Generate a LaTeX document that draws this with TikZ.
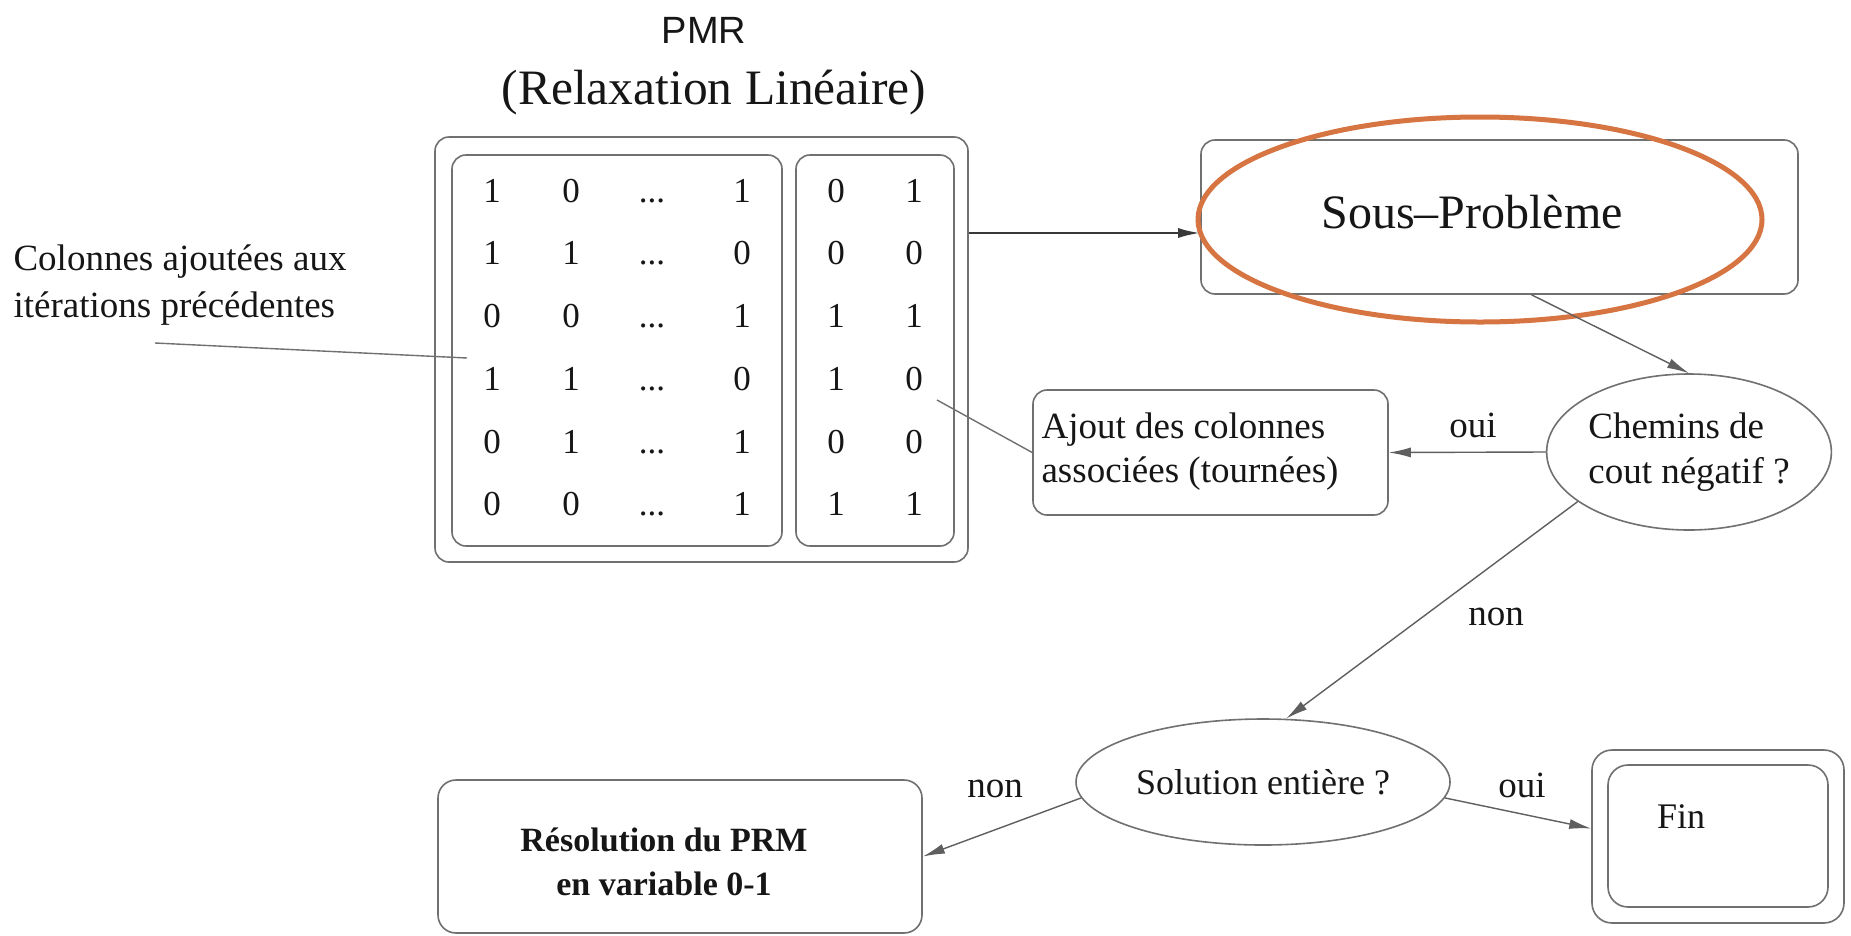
\documentclass[tikz,border=0pt]{standalone}
\usepackage{fontspec}
\setmainfont{Liberation Serif}
\setsansfont{Liberation Sans}
\usetikzlibrary{arrows.meta,calc,shapes.geometric}
\definecolor{boxgray}{RGB}{112,112,112}
\definecolor{ink}{RGB}{22,22,22}
\definecolor{hilite}{RGB}{214,116,66}
\newcommand\setfs[2]{\fontsize{#1pt}{#2pt}\selectfont}
\begin{document}
\begin{tikzpicture}[x=1pt,y=-1pt,
  boxframe/.style={draw=boxgray,line width=1.6pt,rounded corners=14pt,inner sep=0pt},
  oval/.style={draw=boxgray,line width=1.6pt,ellipse,inner sep=0pt,text=ink},
  txt/.style={text=ink,inner sep=0pt},
  cell/.style={text=ink,inner sep=0pt,anchor=base,font=\setfs{35}{42}},
  flow/.style={draw=boxgray!85!black,line width=1.4pt,-{Latex[length=22pt,width=10pt]}},
  lead/.style={draw=boxgray,line width=1.4pt},
]
\fill[white] (0,0) rectangle (1851,935);
\useasboundingbox (0,0) rectangle (1851,935);

% master problem title
\node[txt,anchor=base,font=\sffamily\setfs{38}{46}] (pmr) at (704,43) {PMR};
\node[txt,anchor=base,font=\setfs{49.5}{58}] (relax) at (714,104) {(Relaxation Linéaire)};

% column matrix
\node[boxframe,minimum width=533pt,minimum height=425pt] (pmrbox) at (701.5,349.5) {};
\node[boxframe,minimum width=330pt,minimum height=391pt] (oldcols) at (617,350.5) {};
\node[boxframe,minimum width=158pt,minimum height=391pt] (newcols) at (875,350.5) {};
\foreach \pa/\pb/\pc/\pd/\pe [count=\r] in {1/0/1/0/1,1/1/0/0/0,0/0/1/1/1,1/1/0/1/0,0/1/1/0/0,0/0/1/1/1}{
  \pgfmathsetmacro\yy{139.5+62.7*\r}
  \node[cell] (m\r-1) at (492,\yy) {\pa};
  \node[cell] (m\r-2) at (571,\yy) {\pb};
  \node[cell] (m\r-3) at (652,\yy) {...};
  \node[cell] (m\r-4) at (742,\yy) {\pc};
  \node[cell] (m\r-5) at (836,\yy) {\pd};
  \node[cell] (m\r-6) at (914,\yy) {\pe};
}

% note on the old columns
\node[txt,align=left,font=\setfs{37}{47}] (colonnes) at (180,285) {Colonnes ajoutées aux\\itérations précédentes};
\coordinate (colA) at (155,343);
\coordinate (colB) at (467,358);
\draw[lead] (colA) -- (colB);

% pricing subproblem
\node[boxframe,minimum width=597pt,minimum height=154pt] (sous) at (1499.5,217) {};
\node[txt,anchor=base,font=\setfs{48}{58}] (soustxt) at (1472,228) {Sous–Problème};
\node[draw=hilite,line width=5pt,ellipse,minimum width=564pt,minimum height=205pt,inner sep=0pt] (focus) at (1480,219.5) {};
\draw[flow,draw=ink!85,line width=2.4pt] ($(pmrbox.east |- sous.west)+(0,16)$) -- ($(sous.west)+(0,16)$);

% negative reduced cost test
\node[oval,minimum width=282pt,minimum height=156pt,align=left,font=\setfs{37}{45}] (chem) at (1689,452) {Chemins de\\cout négatif ?};
\draw[flow] ($(sous.south)+(32,0)$) -- (chem.north);

% adding columns
\node[boxframe,minimum width=355pt,minimum height=125pt] (ajout) at (1210.5,452.5) {};
\node[txt,align=left,font=\setfs{37}{44}] (ajouttxt) at (1190,452) {Ajout des colonnes\\associées (tournées)};
\draw[flow] (chem.west) -- (ajout.east);
\node[txt,anchor=base,font=\setfs{37}{44}] (oui1) at (1473,437) {oui};
\coordinate (ajA) at (937,400);
\draw[lead] (ajA) -- (ajout.west);

% integrality test
\node[oval,minimum width=374pt,minimum height=126pt,font=\setfs{36}{44}] (sol) at (1263,782) {Solution entière ?};
\draw[flow] (chem.204) -- (sol.70);
\node[txt,anchor=base,font=\setfs{37}{44}] (non1) at (1496,625) {non};

% end
\node[boxframe,rounded corners=20pt,minimum width=252pt,minimum height=173pt] (finout) at (1718,836.5) {};
\node[boxframe,rounded corners=20pt,minimum width=220pt,minimum height=142pt] (finin) at (1718,836) {};
\node[txt,anchor=base west,font=\setfs{36}{44}] (fintxt) at (1657,828) {Fin};
\draw[flow] (sol.-5) -- ($(finout.west)+(0,-8)$);
\node[txt,anchor=base,font=\setfs{37}{44}] (oui2) at (1522,797) {oui};

% integer resolution
\node[boxframe,rounded corners=18pt,minimum width=484pt,minimum height=153pt] (resol) at (680,856.5) {};
\node[txt,align=center,font=\bfseries\setfs{34}{44}] (resoltxt) at (664,862) {Résolution du PRM\\en variable 0-1};
\draw[flow] (sol.185) -- (resol.east);
\node[txt,anchor=base,font=\setfs{37}{44}] (non2) at (995,797) {non};
\end{tikzpicture}
\end{document}
